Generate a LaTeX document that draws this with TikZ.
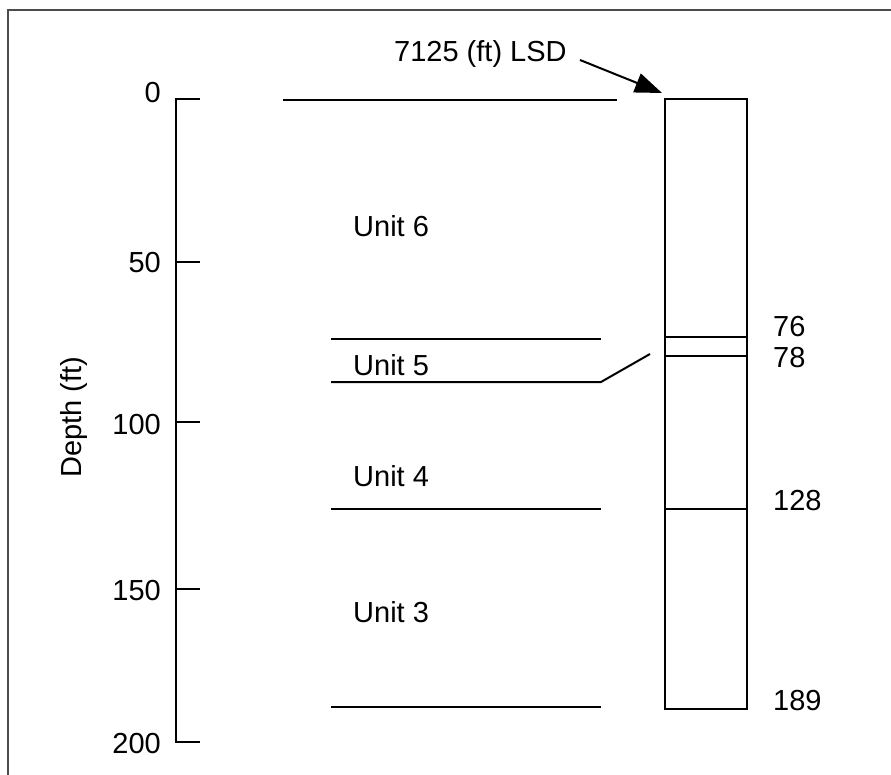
\documentclass[tikz,border=0pt]{standalone}
\usepackage{fontspec}
\setmainfont{Liberation Sans}
\usetikzlibrary{arrows.meta}
\begin{document}
\begin{tikzpicture}[x=1pt,y=-1pt,
  every node/.style={inner sep=0pt,font=\fontsize{29}{35}\selectfont},
  ln/.style={line width=2pt,black},
  frame/.style={line width=2.2pt,black!70},
  lbl/.style={anchor=base west},
  num/.style={anchor=base east},
  lead/.style={line width=2pt,-{Triangle[length=27pt,width=20pt]}}]
\useasboundingbox (0,0) rectangle (891,775);
% frame
\draw[frame] (8,775) -- (8,10) -- (891,10);
% depth axis
\draw[ln] (200,99) -- (176,99) -- (176,742) -- (200,742);
\foreach \y in {262,422,589} \draw[ln] (176,\y) -- (200,\y);
\node[num] (t0) at (161,103) {0};
\node[num] (t50) at (161,273) {50};
\node[num] (t100) at (161,434) {100};
\node[num] (t150) at (161,600) {150};
\node[num] (t200) at (161,753) {200};
\node[anchor=base,rotate=90] (ylab) at (81,417) {Depth (ft)};
% unit boundaries
\draw[ln] (283,100) -- (617,100);
\draw[ln] (331,339) -- (601,339);
\draw[ln] (331,382) -- (601,382) -- (650,354);
\draw[ln] (331,509) -- (601,509);
\draw[ln] (331,707) -- (601,707);
\node[lbl] (u6) at (353,237) {Unit 6};
\node[lbl] (u5) at (353,375) {Unit 5};
\node[lbl] (u4) at (353,486) {Unit 4};
\node[lbl] (u3) at (353,622) {Unit 3};
% column
\draw[ln] (665,99) rectangle (747,709);
\draw[ln] (665,337) -- (747,337);
\draw[ln] (665,356) -- (747,356);
\draw[ln] (665,509) -- (747,509);
\node[lbl] (d76) at (773,337) {76};
\node[lbl] (d78) at (773,367) {78};
\node[lbl] (d128) at (773,510) {128};
\node[lbl] (d189) at (773,710) {189};
% LSD label and arrow
\node[lbl] (lsd) at (394,62) {7125 (ft) LSD};
\coordinate (as) at (580,60);
\coordinate (ae) at (662,93);
\draw[lead] (as) -- (ae);
\end{tikzpicture}
\end{document}
